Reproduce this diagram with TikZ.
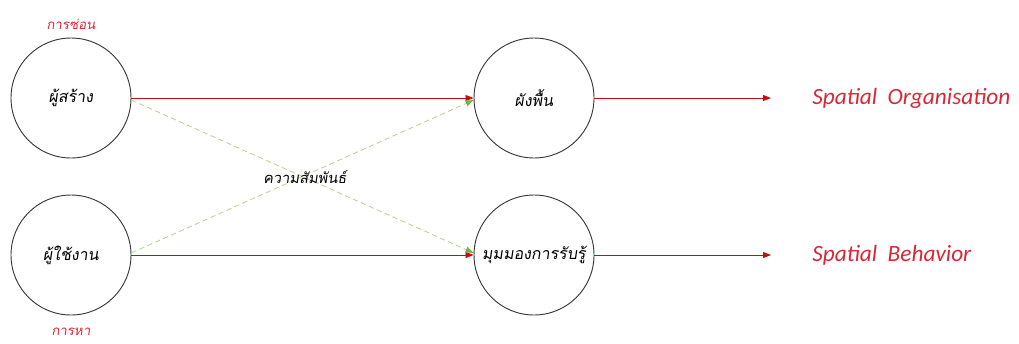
\documentclass[tikz,border=0pt]{standalone}
\usepackage{fontspec}
\setmainfont{Carlito}
\newfontfamily\thaifont[Script=Thai,FakeSlant=0.15]{Loma}
\usetikzlibrary{arrows.meta,positioning}
\definecolor{linkred}{rgb}{0.76,0.05,0.10}
\definecolor{labelred}{rgb}{0.84,0.16,0.22}
\definecolor{dashgreen}{rgb}{0.76,0.83,0.62}
\definecolor{tipgreen}{rgb}{0.45,0.70,0.28}
\definecolor{ringgray}{rgb}{0.22,0.22,0.22}
\tikzset{
  actor/.style={
    circle,
    draw=ringgray,
    line width=0.7pt,
    minimum size=90pt,
    inner sep=0pt,
    align=center,
    font=\thaifont\fontsize{12}{14}\selectfont
  },
  role/.style={
    text=labelred,
    inner sep=0pt,
    font=\thaifont\fontsize{10}{12}\selectfont
  },
  outcome/.style={
    text=labelred,
    anchor=west,
    inner sep=0pt,
    font=\itshape\fontsize{17.5}{20}\selectfont
  },
  link/.style={
    -{Triangle[length=6pt,width=4.5pt]},
    line width=0.6pt,
    linkred
  },
  cross/.style={
    -{Triangle[length=6pt,width=4.5pt,fill=tipgreen,color=tipgreen]},
    line width=0.7pt,
    dashgreen,
    dash pattern=on 4pt off 2.5pt
  }
}
\begin{document}
\begin{tikzpicture}[x=0.75pt,y=-0.75pt]
\useasboundingbox (0,0) rectangle (1019,343);
\node[actor] (creator) at (71,98) {ผู้สร้าง};
\node[actor] (user) at (71,255) {ผู้ใช้งาน};
\node[actor] (floor) at (534,98) {ผังพื้น};
\node[actor] (percept) at (534,255) {มุมมองการรับรู้};
\node[role,above=6pt of creator] (hide) {การซ่อน};
\node[role,below=9pt of user] (seek) {การหา};
\node[outcome] (org) at (812,98) {Spatial\ \ Organisation};
\node[outcome] (behav) at (812,255) {Spatial\ \ Behavior};
\coordinate (orgend) at (771,98);
\coordinate (behavend) at (771,255);
\draw[link] (creator) -- (floor);
\draw[link] (user) -- (percept);
\draw[cross] (creator.-2) -- (percept.178);
\draw[cross] (user.2) -- (floor.182);
\node[font=\thaifont\fontsize{11}{13}\selectfont,inner sep=0pt] (relation) at (305,177) {ความสัมพันธ์};
\draw[link] (floor) -- (orgend);
\draw[link] (percept) -- (behavend);
\end{tikzpicture}
\end{document}
